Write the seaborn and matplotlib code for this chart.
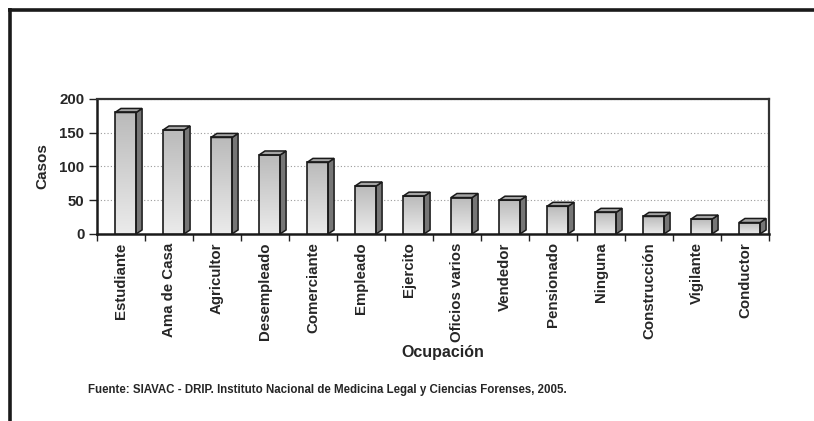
import numpy as np
import pandas as pd
import matplotlib
matplotlib.use("Agg")
import matplotlib.pyplot as plt
import seaborn as sns
from matplotlib.patches import Polygon
from matplotlib.colors import LinearSegmentedColormap
from matplotlib.lines import Line2D

categories = ["Estudiante", "Ama de Casa", "Agricultor", "Desempleado", "Comerciante",
              "Empleado", "Ejercito", "Oficios varios", "Vendedor", "Pensionado",
              "Ninguna", "Construcción", "Vigilante", "Conductor"]
casos = [180, 154, 143, 117, 106, 71, 56, 54, 50, 41, 32, 26, 22, 17]
y_ticks = [0, 50, 100, 150, 200]
x_title = "Ocupación"
y_title = "Casos"
source = "Fuente: SIAVAC - DRIP. Instituto Nacional de Medicina Legal y Ciencias Forenses, 2005."

sns.set_style("white")
plt.rcParams["font.family"] = ["Liberation Sans", "DejaVu Sans"]

df = pd.DataFrame({"Ocupacion": categories, "Casos": casos})

fig = plt.figure(figsize=(8.14, 4.21), dpi=100)
ax = fig.add_axes([97 / 814, 1 - 234 / 421, 672 / 814, 135 / 421])

sns.barplot(data=df, x="Ocupacion", y="Casos", ax=ax, width=0.44,
            color="#d0d0d0", edgecolor="#1a1a1a", linewidth=1.2, zorder=3)

shift = 0.094
xlo, xhi = -0.5 - shift, len(categories) - 0.5 - shift
ylo, yhi = 0, 200
dx, dy = 0.125, 6.0

cmap = LinearSegmentedColormap.from_list("g", ["#ebebeb", "#bababa"])
grad = np.linspace(0, 1, 256).reshape(-1, 1)
for p in list(ax.patches):
    x0, w, h = p.get_x(), p.get_width(), p.get_height()
    im = ax.imshow(grad, extent=[x0, x0 + w, 0, h], origin="lower", aspect="auto",
                   cmap=cmap, zorder=3.1)
    im.set_clip_path(p)
    p.set_facecolor("none")
    p.set_zorder(4)
    side = Polygon([(x0 + w, 0), (x0 + w + dx, dy), (x0 + w + dx, h + dy), (x0 + w, h)],
                   closed=True, facecolor="#767676", edgecolor="#1a1a1a", linewidth=1.1, zorder=3.5)
    top = Polygon([(x0, h), (x0 + dx, h + dy), (x0 + w + dx, h + dy), (x0 + w, h)],
                  closed=True, facecolor="#a4a4a4", edgecolor="#1a1a1a", linewidth=1.1, zorder=3.5)
    ax.add_patch(side)
    ax.add_patch(top)

ax.set_xlim(xlo, xhi)
ax.set_ylim(ylo, yhi)
ax.set_yticks(y_ticks)
ax.set_yticklabels([str(t) for t in y_ticks], fontsize=10.8, fontweight="bold")
ax.set_xticks([i - shift for i in range(len(categories))])
ax.set_xticklabels(categories, rotation=90, fontsize=10.8, fontweight="bold", va="top")
ax.set_xticks([xlo + k for k in range(len(categories) + 1)], minor=True)
ax.tick_params(axis="x", which="major", length=0, pad=6)
ax.tick_params(axis="x", which="minor", length=5, width=1, color="#222222", direction="out", bottom=True)
ax.tick_params(axis="y", length=6, width=1, color="#222222", direction="out", pad=3, left=True)

ax.yaxis.grid(True, linestyle=(0, (1, 2)), color="#9a9a9a", linewidth=0.8, zorder=0)
ax.xaxis.grid(False)
ax.set_axisbelow(True)

for s in ["left", "bottom"]:
    ax.spines[s].set_linewidth(1.8)
    ax.spines[s].set_color("#1a1a1a")
for s in ["top", "right"]:
    ax.spines[s].set_visible(True)
    ax.spines[s].set_linewidth(1.6)
    ax.spines[s].set_color("#333333")

ax.set_ylabel(y_title, fontsize=11, fontweight="bold", labelpad=7)
ax.set_xlabel(x_title, fontsize=11.5, fontweight="bold")
ax.xaxis.set_label_coords(0.515, -0.82)

fig.text(88 / 814, 1 - 390 / 421, source, fontsize=8.3, fontweight="bold",
         va="center", ha="left")

# outer frame (top and left edges)
fig.add_artist(Line2D([8 / 814, 1.0], [1 - 9.5 / 421, 1 - 9.5 / 421],
                      transform=fig.transFigure, color="#1a1a1a", linewidth=2.6,
                      solid_capstyle="butt"))
fig.add_artist(Line2D([9.5 / 814, 9.5 / 814], [1 - 8 / 421, 0],
                      transform=fig.transFigure, color="#1a1a1a", linewidth=2.6,
                      solid_capstyle="butt"))

fig.savefig("out.png", dpi=100, facecolor="white")
